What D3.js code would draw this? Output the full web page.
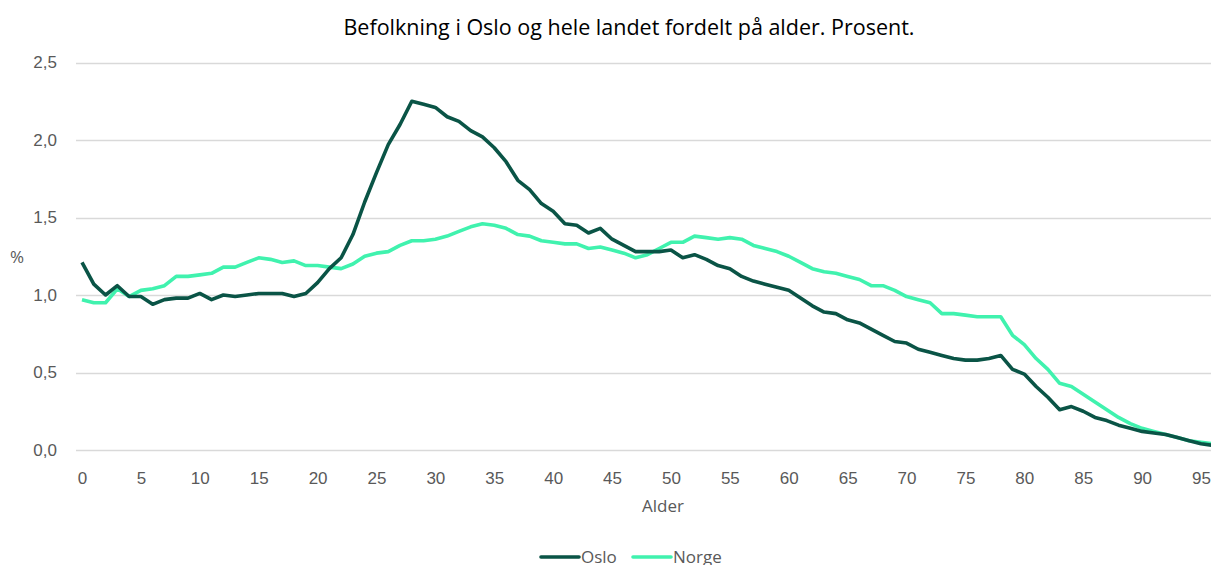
<!DOCTYPE html>
<html>
<head>
<meta charset="utf-8">
<script src="https://cdn.jsdelivr.net/npm/d3@7"></script>
<style>
  html, body { margin: 0; padding: 0; background: #fff; }
  svg { display: block; font-family: "Open Sans", "Liberation Sans", sans-serif; }
  .tick text { fill: #595959; }
</style>
</head>
<body>
<svg id="chart" width="1211" height="565"></svg>
<script>
// Ages 0-96
const ages = d3.range(0, 97);

const oslo = [
  1.21, 1.07, 1.00, 1.06, 0.99, 0.99, 0.94, 0.97, 0.98, 0.98,
  1.01, 0.97, 1.00, 0.99, 1.00, 1.01, 1.01, 1.01, 0.99, 1.01,
  1.08, 1.17, 1.24, 1.39, 1.60, 1.79, 1.97, 2.10, 2.25, 2.23,
  2.21, 2.15, 2.12, 2.06, 2.02, 1.95, 1.86, 1.74, 1.68, 1.59,
  1.54, 1.46, 1.45, 1.40, 1.43, 1.36, 1.32, 1.28, 1.28, 1.28,
  1.29, 1.24, 1.26, 1.23, 1.19, 1.17, 1.12, 1.09, 1.07, 1.05,
  1.03, 0.98, 0.93, 0.89, 0.88, 0.84, 0.82, 0.78, 0.74, 0.70,
  0.69, 0.65, 0.63, 0.61, 0.59, 0.58, 0.58, 0.59, 0.61, 0.52,
  0.49, 0.41, 0.34, 0.26, 0.28, 0.25, 0.21, 0.19, 0.16, 0.14,
  0.12, 0.11, 0.10, 0.08, 0.06, 0.04, 0.03
];

const norge = [
  0.97, 0.95, 0.95, 1.04, 0.99, 1.03, 1.04, 1.06, 1.12, 1.12,
  1.13, 1.14, 1.18, 1.18, 1.21, 1.24, 1.23, 1.21, 1.22, 1.19,
  1.19, 1.18, 1.17, 1.20, 1.25, 1.27, 1.28, 1.32, 1.35, 1.35,
  1.36, 1.38, 1.41, 1.44, 1.46, 1.45, 1.43, 1.39, 1.38, 1.35,
  1.34, 1.33, 1.33, 1.30, 1.31, 1.29, 1.27, 1.24, 1.26, 1.30,
  1.34, 1.34, 1.38, 1.37, 1.36, 1.37, 1.36, 1.32, 1.30, 1.28,
  1.25, 1.21, 1.17, 1.15, 1.14, 1.12, 1.10, 1.06, 1.06, 1.03,
  0.99, 0.97, 0.95, 0.88, 0.88, 0.87, 0.86, 0.86, 0.86, 0.74,
  0.68, 0.59, 0.52, 0.43, 0.41, 0.36, 0.31, 0.26, 0.21, 0.17,
  0.14, 0.12, 0.10, 0.08, 0.06, 0.05, 0.04
];

const yTicks = [0, 0.5, 1.0, 1.5, 2.0, 2.5];
const xTicks = d3.range(0, 96, 5);

const series = [
  { name: 'Oslo', values: oslo, color: '#0a5446' },
  { name: 'Norge', values: norge, color: '#40f2ae' }
];

const svg = d3.select('#chart');
const width = 1211, height = 565;
const labelSize = 17;

const x = d3.scaleLinear().domain([0, 95]).range([82, 1201]);
const y = d3.scaleLinear().domain([0, 2.5]).range([450, 62.5]);

const fmt = d => d.toFixed(1).replace('.', ',');

// Title
svg.append('text')
  .attr('x', 629).attr('y', 35)
  .attr('text-anchor', 'middle')
  .attr('font-size', 21.5)
  .attr('fill', '#000')
  .text('Befolkning i Oslo og hele landet fordelt på alder. Prosent.');

// Gridlines
svg.append('g')
  .selectAll('line')
  .data(yTicks)
  .join('line')
  .attr('x1', 76).attr('x2', width)
  .attr('y1', d => Math.round(y(d)) + 0.5)
  .attr('y2', d => Math.round(y(d)) + 0.5)
  .attr('stroke', '#d9d9d9')
  .attr('stroke-width', 1.3);

// Y axis labels
const yAxis = svg.append('g')
  .attr('transform', 'translate(57,0)')
  .call(d3.axisLeft(y).tickValues(yTicks).tickFormat(fmt).tickSize(0).tickPadding(0));
yAxis.select('.domain').remove();
yAxis.selectAll('.tick text').attr('font-size', labelSize);

// X axis labels
const xAxis = svg.append('g')
  .attr('transform', 'translate(0,472)')
  .call(d3.axisBottom(x).tickValues(xTicks).tickFormat(d3.format('d')).tickSize(0).tickPadding(0));
xAxis.select('.domain').remove();
xAxis.selectAll('.tick text').attr('font-size', labelSize);

// Axis titles
svg.append('text')
  .attr('x', 17).attr('y', 263)
  .attr('text-anchor', 'middle')
  .attr('font-size', labelSize)
  .attr('fill', '#595959')
  .text('%');

svg.append('text')
  .attr('x', 663).attr('y', 512)
  .attr('text-anchor', 'middle')
  .attr('font-size', labelSize)
  .attr('fill', '#595959')
  .text('Alder');

// Lines
const line = d3.line()
  .x((d, i) => x(ages[i]))
  .y(d => y(d));

svg.append('g')
  .selectAll('path')
  .data(series.slice().reverse())
  .join('path')
  .attr('d', d => line(d.values))
  .attr('fill', 'none')
  .attr('stroke', d => d.color)
  .attr('stroke-width', 3.6)
  .attr('stroke-linejoin', 'round');

// Legend
const legend = svg.append('g').attr('transform', 'translate(541,557)');
const legendX = [0, 92];
series.forEach((s, i) => {
  const g = legend.append('g').attr('transform', `translate(${legendX[i]},0)`);
  g.append('line')
    .attr('x1', 0).attr('x2', 38)
    .attr('y1', 0).attr('y2', 0)
    .attr('stroke', s.color)
    .attr('stroke-width', 3.6)
    .attr('stroke-linecap', 'round');
  g.append('text')
    .attr('x', 40).attr('y', 6)
    .attr('font-size', labelSize)
    .attr('fill', '#595959')
    .text(s.name);
});
</script>
</body>
</html>
